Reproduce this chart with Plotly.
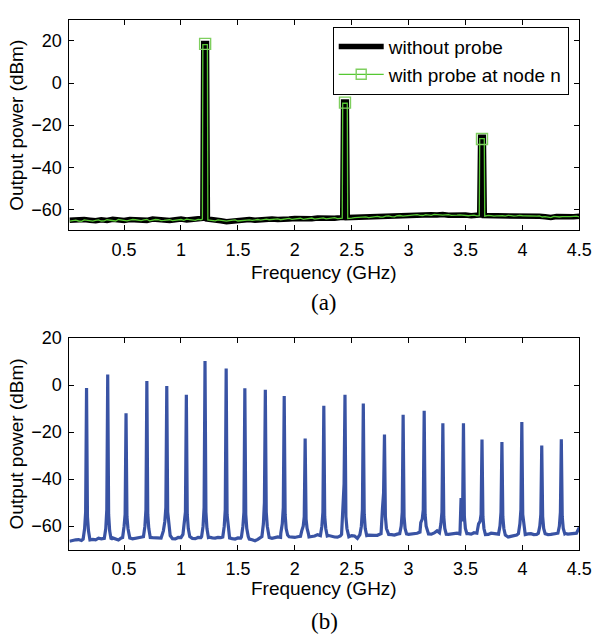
import plotly.graph_objects as go

# ---------------- data: panel (a) ----------------
floor_f = [0.02, 0.05, 0.10, 0.15, 0.20, 0.25, 0.30, 0.35, 0.40, 0.45, 0.50,
           0.55, 0.60, 0.65, 0.70, 0.75, 0.80, 0.85, 0.90, 0.95, 1.00,
           1.05, 1.10, 1.15, 1.20, 1.25, 1.30, 1.35, 1.40, 1.45, 1.50,
           1.55, 1.60, 1.65, 1.70, 1.75, 1.80, 1.85, 1.90, 1.95, 2.00,
           2.05, 2.10, 2.15, 2.20, 2.25, 2.30, 2.35, 2.40, 2.45, 2.50,
           2.55, 2.60, 2.65, 2.70, 2.75, 2.80, 2.85, 2.90, 2.95, 3.00,
           3.05, 3.10, 3.15, 3.20, 3.25, 3.30, 3.35, 3.40, 3.45, 3.50,
           3.55, 3.60, 3.65, 3.70, 3.75, 3.80, 3.85, 3.90, 3.95, 4.00,
           4.05, 4.10, 4.15, 4.20, 4.25, 4.30, 4.35, 4.40, 4.45, 4.50]

mid_f = [0.075, 0.125, 0.175, 0.225, 0.275, 0.325, 0.375, 0.425, 0.475,
         0.525, 0.575, 0.625, 0.675, 0.725, 0.775, 0.825, 0.875, 0.925, 0.975,
         1.025, 1.075, 1.125, 1.175, 1.225, 1.275, 1.325, 1.375, 1.425, 1.475,
         1.525, 1.575, 1.625, 1.675, 1.725, 1.775, 1.825, 1.875, 1.925, 1.975,
         2.025, 2.075, 2.125, 2.175, 2.225, 2.275, 2.325, 2.375, 2.425, 2.475,
         2.525, 2.575, 2.625, 2.675, 2.725, 2.775, 2.825, 2.875, 2.925, 2.975,
         3.025, 3.075, 3.125, 3.175, 3.225, 3.275, 3.325, 3.375, 3.425, 3.475,
         3.525, 3.575, 3.625, 3.675, 3.725, 3.775, 3.825, 3.875, 3.925, 3.975,
         4.025, 4.075, 4.125, 4.175, 4.225, 4.275, 4.325, 4.375, 4.425, 4.475]

black_floor = [-65.2, -65.0, -65.3, -64.8, -65.1, -65.4, -64.9, -65.2, -64.7, -65.0, -65.3,
               -64.8, -65.1, -64.9, -65.2, -64.6, -65.0, -64.8, -65.3, -64.9, -64.6,
               -65.0, -64.7, -64.5, -64.3, -64.8, -65.0, -65.4, -65.8, -65.5, -65.2,
               -65.0, -64.8, -65.1, -64.7, -64.9, -64.5, -64.8, -64.4, -64.6, -64.3,
               -64.5, -64.2, -64.4, -64.1, -64.3, -64.0, -64.2, -63.9, -63.9, -63.8,
               -63.6, -63.9, -63.5, -63.7, -63.2, -63.5, -63.0, -63.3, -62.9, -62.7,
               -62.4, -62.6, -62.3, -62.5, -62.7, -62.4, -62.8, -62.6, -62.9, -62.7,
               -63.0, -62.8, -62.8, -62.9, -63.1, -62.8, -63.0, -62.7, -63.0, -62.9,
               -63.2, -63.0, -63.3, -63.5, -63.8, -63.4, -63.6, -63.2, -63.5, -63.3]

green_floor = [-65.6, -65.3, -65.5, -65.0, -65.4, -65.2, -65.5, -64.9, -65.2, -64.8, -65.3,
               -65.1, -64.9, -65.3, -64.8, -65.1, -64.9, -65.2, -64.9, -65.1, -64.8,
               -64.6, -65.0, -64.7, -64.5, -65.1, -65.4, -65.1, -65.6, -65.2, -65.5,
               -65.2, -65.0, -64.9, -65.1, -64.6, -64.8, -64.5, -64.7, -64.3, -64.6,
               -64.2, -64.5, -64.1, -64.4, -64.0, -64.3, -63.9, -64.1, -64.0, -64.1,
               -63.8, -63.6, -63.9, -63.4, -63.6, -63.2, -63.4, -63.0, -63.2, -62.9,
               -62.6, -62.8, -62.5, -62.8, -62.5, -62.7, -62.5, -62.9, -62.6, -63.0,
               -62.8, -63.1, -63.0, -62.8, -63.2, -62.9, -63.2, -62.9, -63.1, -63.0,
               -62.9, -63.3, -63.1, -63.4, -63.9, -63.6, -63.4, -63.7, -63.3, -63.5]

green_mid = [-65.1, -65.7, -65.2, -65.6, -65.0, -65.4, -65.1, -65.5, -65.0,
             -65.4, -64.8, -65.2, -65.0, -65.4, -64.8, -65.3, -65.0, -65.3, -64.9,
             -65.2, -64.8, -65.2, -64.9, -64.0, -65.3, -65.0, -65.5, -65.3, -65.0,
             -65.4, -64.9, -65.2, -64.8, -65.0, -64.9, -64.6, -64.9, -64.4, -64.7,
             -64.4, -64.7, -64.3, -64.6, -64.2, -64.5, -64.1, -64.4, -64.0, -64.3,
             -63.9, -63.9, -63.5, -63.8, -63.3, -63.7, -63.1, -63.5, -62.9, -63.1,
             -62.8, -62.5, -62.9, -62.6, -62.4, -62.9, -62.6, -62.8, -62.7, -62.8,
             -63.0, -62.7, -63.0, -63.1, -62.9, -63.1, -63.0, -62.8, -63.2, -62.8,
             -63.1, -63.0, -63.2, -63.6, -63.7, -63.3, -63.6, -63.4, -63.4, -63.2]

tone_f = [1.212, 2.441, 3.645]
black_top = [18.8, -9.0, -25.8]
green_top = [18.2, -9.6, -26.4]
marker_p = [18.6, -9.3, -26.6]
black_base_lo = [-64.2, -63.8, -62.6]
black_base_hi = [-64.6, -63.9, -62.9]
green_base_lo = [-64.6, -64.2, -63.0]
green_base_hi = [-65.0, -64.3, -63.2]

# ---------------- data: panel (b) ----------------
floor_b = [-66.4, -66.0, -65.7, -65.5, -65.2, -65.8, -65.4, -65.6, -65.0, -65.9, -65.3,
           -65.0, -65.2, -64.8, -65.0, -64.9, -65.3, -64.6, -65.1, -65.4, -64.9,
           -65.0, -65.2, -64.8, -65.0, -64.7, -65.1, -64.9, -65.2, -65.3, -65.0,
           -65.2, -65.5, -66.2, -65.0, -64.7, -65.2, -64.6, -64.9, -64.5, -64.8,
           -64.3, -64.6, -64.4, -63.6, -64.5, -64.0, -64.6, -64.2, -63.8, -64.0,
           -65.2, -65.6, -63.8, -63.9, -63.5, -63.8, -63.6, -63.4, -63.7, -63.5,
           -63.2, -62.5, -63.0, -63.4, -62.0, -63.2, -63.5, -63.1, -63.3, -63.0,
           -63.4, -63.0, -63.2, -63.5, -63.2, -63.6, -64.0, -64.4, -63.8, -63.5,
           -63.3, -63.6, -63.4, -63.2, -63.5, -63.0, -63.3, -63.4, -63.0, -60.5]

mid_b = [-65.8, -66.1, -65.5, -65.6, -65.1, -65.7, -65.3, -65.4, -65.0,
         -65.2, -65.4, -64.9, -65.3, -65.2, -65.0, -65.1, -65.0, -65.3, -64.8,
         -65.2, -64.9, -65.3, -64.9, -65.0, -65.0, -64.8, -65.3, -65.0, -65.5,
         -65.1, -65.0, -65.8, -65.6, -65.0, -64.8, -65.0, -64.8, -65.0, -64.7,
         -64.5, -64.4, -64.6, -64.2, -64.6, -64.3, -64.4, -64.7, -64.0, -64.5,
         -64.2, -65.8, -64.0, -63.7, -63.9, -63.6, -63.5, -63.8, -63.5, -63.6,
         -63.4, -63.0, -63.0, -63.3, -62.9, -63.2, -63.4, -63.3, -63.0, -63.0,
         -63.2, -62.8, -63.0, -63.6, -63.0, -63.4, -63.5, -64.6, -64.0, -63.4,
         -63.5, -63.2, -63.5, -63.3, -63.6, -63.2, -63.4, -63.1, -63.2, -63.0]

comb_f = [0.170, 0.356, 0.517, 0.700, 0.875, 1.047, 1.211, 1.397, 1.561, 1.741,
          1.907, 2.091, 2.255, 2.441, 2.602, 2.788, 2.952, 3.137, 3.301, 3.482,
          3.645, 3.820, 3.995, 4.170, 4.342]
comb_p = [-1.3, 4.5, -12.0, 1.7, -0.4, -4.1, 10.2, 7.0, -1.4, -2.0,
          -4.6, -22.7, -8.8, -4.1, -7.8, -21.0, -12.6, -10.9, -16.2, -16.2,
          -23.2, -24.2, -15.7, -25.7, -23.1]
skirt_lo = [-54, -53, -55, -53, -52, -54, -52, -53, -54, -50,
            -52, -56, -54, -42, -53, -46, -54, -53, -54, -58,
            -55, -54, -53, -55, -54]
skirt_hi = [-56, -55, -56, -55, -54, -55, -54, -55, -55, -54,
            -55, -57, -56, -56, -55, -56, -56, -55, -56, -56,
            -56, -56, -55, -56, -56]
flare_lo = [-61, -61, -60, -60, -58, -59, -60, -60, -60, -59,
            -59, -60, -60, -50, -60, -52, -60, -57, -59, -50,
            -58, -60, -59, -60, -60]
flare_hi = [-62, -62, -61, -61, -60, -61, -61, -61, -61, -60,
            -61, -61, -61, -61, -61, -61, -61, -60, -61, -61,
            -61, -61, -60, -61, -61]
base_lo = [-65.5, -65.2, -64.8, -64.5, -62.0, -63.5, -64.5, -64.6, -64.6, -64.4,
           -63.0, -62.0, -64.0, -63.5, -63.6, -63.2, -63.2, -58.5, -62.8, -62.5,
           -59.0, -63.4, -63.2, -63.0, -63.0]
base_hi = [-65.8, -65.6, -65.0, -64.8, -64.0, -64.4, -64.8, -65.0, -64.4, -64.0,
           -63.8, -63.5, -64.2, -63.8, -64.0, -63.5, -63.3, -62.8, -63.4, -63.2,
           -63.6, -63.8, -63.6, -63.2, -63.2]
extra_f = [3.461]
extra_p = [-48.0]

SK = 0.008   # skirt offset (GHz)
FL = 0.017   # flare offset (GHz)
BS = 0.030   # base offset (GHz)


def merge_floor(lists, pk_f):
    pts = []
    for ff, fp in lists:
        for f, p in zip(ff, fp):
            if min(abs(f - c) for c in pk_f) > BS + 0.002:
                pts.append((f, p))
    return pts


def finish(pts):
    pts.sort()
    return [a for a, _ in pts], [b for _, b in pts]


# panel (a) black
pts = merge_floor([(floor_f, black_floor)], tone_f)
for i, c in enumerate(tone_f):
    pts += [(c - 0.02, black_base_lo[i]), (c - 0.012, black_top[i]),
            (c + 0.012, black_top[i]), (c + 0.02, black_base_hi[i])]
ax, ay = finish(pts)

# panel (a) green
pts = merge_floor([(floor_f, green_floor), (mid_f, green_mid)], tone_f)
for i, c in enumerate(tone_f):
    pts += [(c - 0.024, green_base_lo[i]), (c - 0.02, green_top[i]),
            (c + 0.02, green_top[i]), (c + 0.024, green_base_hi[i])]
gx, gy = finish(pts)

# panel (b)
pts = merge_floor([(floor_f, floor_b), (mid_f, mid_b)], comb_f)
for i, c in enumerate(comb_f):
    pts += [(c - BS, base_lo[i]), (c - FL, flare_lo[i]), (c - SK, skirt_lo[i]),
            (c, comb_p[i]),
            (c + SK, skirt_hi[i]), (c + FL, flare_hi[i]), (c + BS, base_hi[i])]
pts += list(zip(extra_f, extra_p))
bx, by = finish(pts)

W, H = 606, 635
FONT = "Liberation Sans, Arial, sans-serif"
SERIF = "Liberation Serif, Times New Roman, serif"
BLUE = "#3953a4"
GREEN = "#55c832"
GREEN_M = "#7fcf5f"

fig = go.Figure()
fig.add_trace(go.Scatter(x=ax, y=ay, mode="lines", name="without probe",
                         line=dict(color="black", width=5.5), xaxis="x", yaxis="y"))
fig.add_trace(go.Scatter(x=gx, y=gy, mode="lines", showlegend=False,
                         line=dict(color=GREEN, width=1.3), xaxis="x", yaxis="y"))
fig.add_trace(go.Scatter(x=tone_f, y=marker_p, mode="markers", showlegend=False,
                         marker=dict(symbol="square-open", size=11, color=GREEN_M,
                                     line=dict(width=1.4, color=GREEN_M)),
                         xaxis="x", yaxis="y"))
fig.add_trace(go.Scatter(x=[None], y=[None], mode="lines+markers",
                         name="with probe at node n",
                         line=dict(color=GREEN, width=1.3),
                         marker=dict(symbol="square-open", size=10, color=GREEN_M,
                                     line=dict(width=1.4, color=GREEN_M)),
                         xaxis="x", yaxis="y"))
fig.add_trace(go.Scatter(x=bx, y=by, mode="lines", showlegend=False,
                         line=dict(color=BLUE, width=3.2), xaxis="x2", yaxis="y2"))

xticks = [0.5, 1, 1.5, 2, 2.5, 3, 3.5, 4, 4.5]
xtext = ["0.5", "1", "1.5", "2", "2.5", "3", "3.5", "4", "4.5"]
yticks = [-60, -40, -20, 0, 20]

axis_common = dict(showline=True, linecolor="black", linewidth=1, mirror="ticks",
                   ticks="inside", ticklen=5, tickwidth=1, tickcolor="black",
                   showgrid=False, zeroline=False,
                   tickfont=dict(family=FONT, size=18, color="black"))

xd = [71 / W, 592 / W]
fig.update_layout(
    width=W, height=H, margin=dict(l=0, r=0, t=0, b=0),
    paper_bgcolor="white", plot_bgcolor="white",
    xaxis=dict(domain=xd, range=[0.02, 4.5], tickvals=xticks, ticktext=xtext,
               anchor="y", ticklabelstandoff=3, **axis_common),
    yaxis=dict(domain=[1 - 224 / H, 1 - 10 / H], range=[-70, 30], tickvals=yticks,
               anchor="x", ticklabelstandoff=3, **axis_common),
    xaxis2=dict(domain=xd, range=[0.02, 4.5], tickvals=xticks, ticktext=xtext,
                anchor="y2", ticklabelstandoff=3, **axis_common),
    yaxis2=dict(domain=[1 - 548.3 / H, 1 - 333.3 / H], range=[-70, 20], tickvals=yticks,
                anchor="x2", ticklabelstandoff=3, **axis_common),
    legend=dict(x=340 / W, y=1 - 17 / H, xanchor="left", yanchor="top",
                bgcolor="white", bordercolor="black", borderwidth=1,
                font=dict(family=FONT, size=19, color="black"),
                tracegroupgap=0, itemwidth=45),
    showlegend=True,
)

cx = (71 + 592) / 2 / W
ann = [
    dict(text="Frequency (GHz)", x=cx, y=1 - 266.7 / H, size=19, family=FONT, angle=0),
    dict(text="(a)", x=cx, y=1 - 296.7 / H, size=23, family=SERIF, angle=0),
    dict(text="Frequency (GHz)", x=cx, y=1 - 588 / H, size=19, family=FONT, angle=0),
    dict(text="(b)", x=cx, y=1 - 621.7 / H, size=23, family=SERIF, angle=0),
    dict(text="Output power (dBm)", x=17 / W, y=1 - 117 / H, size=19, family=FONT, angle=-90),
    dict(text="Output power (dBm)", x=17 / W, y=1 - 440.8 / H, size=19, family=FONT, angle=-90),
]
for a in ann:
    fig.add_annotation(text=a["text"], x=a["x"], y=a["y"], xref="paper", yref="paper",
                       xanchor="center", yanchor="middle", showarrow=False,
                       textangle=a["angle"],
                       font=dict(family=a["family"], size=a["size"], color="black"))

fig.write_html("out.html")
